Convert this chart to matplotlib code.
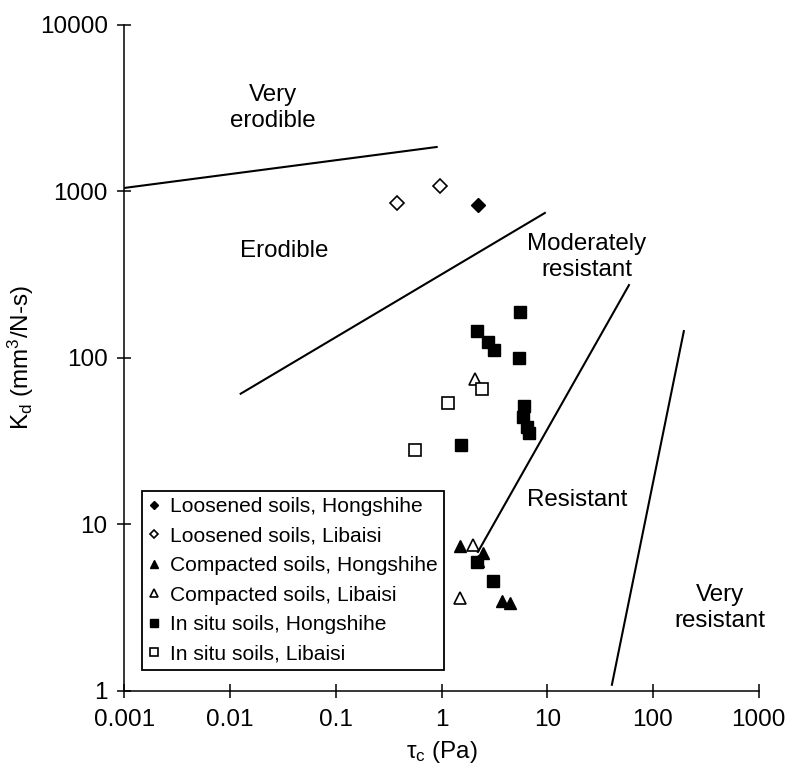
import matplotlib
matplotlib.use("Agg")
import matplotlib.pyplot as plt

plt.rcParams["font.family"] = ["Liberation Sans", "DejaVu Sans"]
plt.rcParams["mathtext.fontset"] = "custom"
plt.rcParams["mathtext.rm"] = "Liberation Sans"
plt.rcParams["mathtext.it"] = "Liberation Sans"

# critical shear stress tau_c (Pa) and erodibility coefficient K_d (mm3/N-s)
loose_hong_tau = [2.21]
loose_hong_kd = [830]
loose_lib_tau = [0.38, 0.97]
loose_lib_kd = [853, 1079]

comp_hong_tau = [1.49, 2.47, 2.2, 3.73, 4.44]
comp_hong_kd = [7.4, 6.7, 6.0, 3.47, 3.38]
comp_lib_tau = [1.98, 1.49, 2.07]
comp_lib_kd = [7.5, 3.62, 74.8]

situ_hong_tau = [5.52, 2.16, 2.75, 3.13, 5.40, 6.03, 5.89, 6.45, 6.71, 1.52, 2.16, 3.06]
situ_hong_kd = [189, 145, 125, 112, 100, 51.5, 44.2, 38.5, 35.5, 30.0, 5.95, 4.58]
situ_lib_tau = [2.41, 1.15, 0.56]
situ_lib_kd = [65.2, 53.7, 28.0]

# class boundaries (x pair, y pair)
boundaries = [
    ([0.001, 0.90], [1050, 1850]),
    ([0.0126, 9.5], [61, 743]),
    ([2.21, 59.3], [6.84, 274]),
    ([40.9, 196], [1.09, 145]),
]

zones = [
    (0.0254, 3175, "Very\nerodible"),
    (0.0323, 439, "Erodible"),
    (23.7, 404, "Moderately\nresistant"),
    (19.1, 14.0, "Resistant"),
    (430, 3.15, "Very\nresistant"),
]

fig = plt.figure(figsize=(7.87, 7.71), dpi=100)
ax = fig.add_axes([0.158, 0.1038, 0.806, 0.8638])
ax.set_xscale("log")
ax.set_yscale("log")
ax.set_xlim(0.001, 1000)
ax.set_ylim(1, 10000)

for xs, ys in boundaries:
    ax.plot(xs, ys, color="black", lw=1.5)

for x, y, txt in zones:
    ax.text(x, y, txt, ha="center", va="center", fontsize=17.4, linespacing=1.25)

ms = 9
ax.plot(loose_hong_tau, loose_hong_kd, "D", color="black", ms=7, ls="none",
        label="Loosened soils, Hongshihe")
ax.plot(loose_lib_tau, loose_lib_kd, "D", mfc="white", mec="black", mew=1.2,
        ms=7, ls="none", label="Loosened soils, Libaisi")
ax.plot(comp_hong_tau, comp_hong_kd, "^", color="black", ms=ms, ls="none",
        label="Compacted soils, Hongshihe")
ax.plot(comp_lib_tau, comp_lib_kd, "^", mfc="white", mec="black", mew=1.2,
        ms=ms, ls="none", label="Compacted soils, Libaisi")
ax.plot(situ_hong_tau, situ_hong_kd, "s", color="black", ms=ms, ls="none",
        label="In situ soils, Hongshihe")
ax.plot(situ_lib_tau, situ_lib_kd, "s", mfc="white", mec="black", mew=1.2,
        ms=ms, ls="none", label="In situ soils, Libaisi")

ax.set_xticks([0.001, 0.01, 0.1, 1, 10, 100, 1000])
ax.set_xticklabels(["0.001", "0.01", "0.1", "1", "10", "100", "1000"])
ax.set_yticks([1, 10, 100, 1000, 10000])
ax.set_yticklabels(["1", "10", "100", "1000", "10000"])
ax.minorticks_off()
ax.tick_params(direction="inout", length=10, width=1.1, labelsize=17.5)
ax.tick_params(axis="x", pad=8)
ax.tick_params(axis="y", pad=7)

for side in ("top", "right"):
    ax.spines[side].set_visible(False)
for side in ("left", "bottom"):
    ax.spines[side].set_linewidth(1.1)

ax.set_xlabel(r"$\tau_\mathregular{c}$ (Pa)", fontsize=17.5, labelpad=6)
ax.set_ylabel(r"K$_\mathregular{d}$ (mm$^\mathregular{3}$/N-s)", fontsize=17.5,
              labelpad=3)

leg = ax.legend(loc="lower left", bbox_to_anchor=(0.0276, 0.0315),
                borderaxespad=0, fontsize=15.1, markerscale=0.65,
                handlelength=0.6, handletextpad=0.45, labelspacing=0.5,
                fancybox=False, edgecolor="black", framealpha=1,
                borderpad=0.3)
leg.get_frame().set_linewidth(1.3)

fig.savefig("out.png", dpi=100)
